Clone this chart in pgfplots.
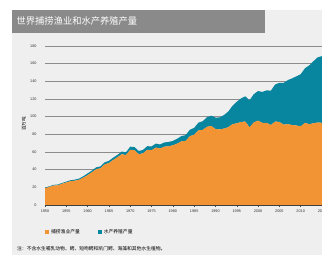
\documentclass[border=0pt]{standalone}
\usepackage{fontspec}
\setmainfont{Liberation Sans}
\newfontfamily\cjk{Noto Sans CJK SC}
\usepackage{pgfplots}
\pgfplotsset{compat=1.18}
\usepackage{pgfplotstable}
\definecolor{bg}{HTML}{EFEFEF}
\definecolor{titlegray}{HTML}{8A8A8A}
\definecolor{capcol}{HTML}{F29434}
\definecolor{aqcol}{HTML}{08859F}
\definecolor{gridcol}{HTML}{8C8C8C}
\pgfplotstableread{
year capture aqua
1950 18.7 0.6
1951 20.5 0.7
1952 22.0 0.8
1953 22.3 0.9
1954 24.0 0.9
1955 25.5 1.0
1956 27.0 1.1
1957 27.5 1.2
1958 28.5 1.4
1959 31.0 1.6
1960 33.8 2.0
1961 37.0 2.0
1962 40.5 2.1
1963 41.5 2.2
1964 46.0 2.3
1965 47.5 2.5
1966 51.0 2.6
1967 54.0 2.8
1968 57.5 3.0
1969 56.5 3.2
1970 62.5 3.5
1971 62.0 3.6
1972 57.5 3.7
1973 58.5 3.9
1974 62.5 4.1
1975 62.0 4.3
1976 65.0 4.5
1977 64.0 4.6
1978 66.0 4.8
1979 66.5 4.9
1980 67.5 5.0
1981 69.5 5.5
1982 72.0 6.0
1983 72.5 6.6
1984 78.0 7.2
1985 79.5 7.8
1986 84.5 8.7
1987 85.0 9.8
1988 88.5 10.8
1989 89.5 11.6
1990 86.0 13.0
1991 85.5 13.6
1992 86.5 15.4
1993 88.0 17.8
1994 91.5 20.8
1995 92.5 24.4
1996 94.0 26.6
1997 94.5 28.5
1998 88.0 30.6
1999 93.5 32.0
2000 95.5 33.5
2001 93.0 35.0
2002 93.0 36.8
2003 90.5 38.9
2004 94.5 41.9
2005 94.0 44.3
2006 91.0 47.3
2007 91.5 49.9
2008 90.5 52.9
2009 90.0 55.7
2010 89.0 59.0
2011 93.0 61.8
2012 91.5 66.5
2013 92.5 70.3
2014 93.4 73.8
2015 93.0 75.5
}\datatable
\begin{document}
\begin{tikzpicture}
\useasboundingbox (0bp,0bp) rectangle (322bp,255bp);
\fill[bg] (12bp,0bp) rectangle (322bp,245bp);
\fill[titlegray] (12bp,222bp) rectangle (265bp,245bp);
\node[anchor=west, text=white, inner sep=0pt, font=\cjk\fontsize{9.3}{10}\selectfont] at (16.5bp,234bp) {世界捕捞渔业和水产养殖产量};
\node[rotate=90, inner sep=0pt, font=\cjk\fontsize{4.6}{5}\selectfont] at (24bp,131bp) {百万吨};
\node[anchor=west, inner sep=0pt, font=\cjk\fontsize{4.8}{5}\selectfont] at (17bp,6.5bp) {注：不含水生哺乳动物、鳄、短吻鳄和凯门鳄、海藻和其他水生植物。};
\begin{axis}[
  at={(45bp,50bp)}, anchor=south west,
  scale only axis, width=277bp, height=159bp,
  xmin=1950, xmax=2015, ymin=0, ymax=180,
  stack plots=y,
  axis line style={draw=none},
  axis x line*=bottom,
  xtick={1950,1955,...,2015},
  ytick={0,20,...,180},
  x tick label style={/pgf/number format/1000 sep={}},
  /pgf/number format/assume math mode=true,
  tick label style={font=\fontsize{3.8}{4}\selectfont, text=black!80},
  ymajorgrids, grid style={gridcol, line width=0.6pt},
  major y tick style={draw=none},
  major x tick style={draw=black!75, line width=0.4pt},
  tick align=outside, major tick length=2bp,
  xticklabel style={yshift=0.5bp},
  yticklabel style={xshift=-3bp},
  clip=false,
  legend style={at={(rel axis cs:0,-0.17)}, anchor=west, draw=none, fill=none,
    font=\cjk\fontsize{4.8}{5}\selectfont, inner sep=0pt,
    /tikz/every even column/.append style={column sep=16bp}},
  legend columns=2,
  legend image code/.code={\fill[#1] (0bp,-2bp) rectangle (4bp,2.5bp);},
]
\addplot[draw=none, fill=capcol] table[x=year, y=capture] {\datatable} \closedcycle;
\addlegendentry{捕捞渔业产量}
\addplot[draw=none, fill=aqcol] table[x=year, y=aqua] {\datatable} \closedcycle;
\addlegendentry{水产养殖产量}
\end{axis}
\draw[black!75, line width=0.6pt] (45bp,50bp) -- (322bp,50bp);
\end{tikzpicture}
\end{document}
